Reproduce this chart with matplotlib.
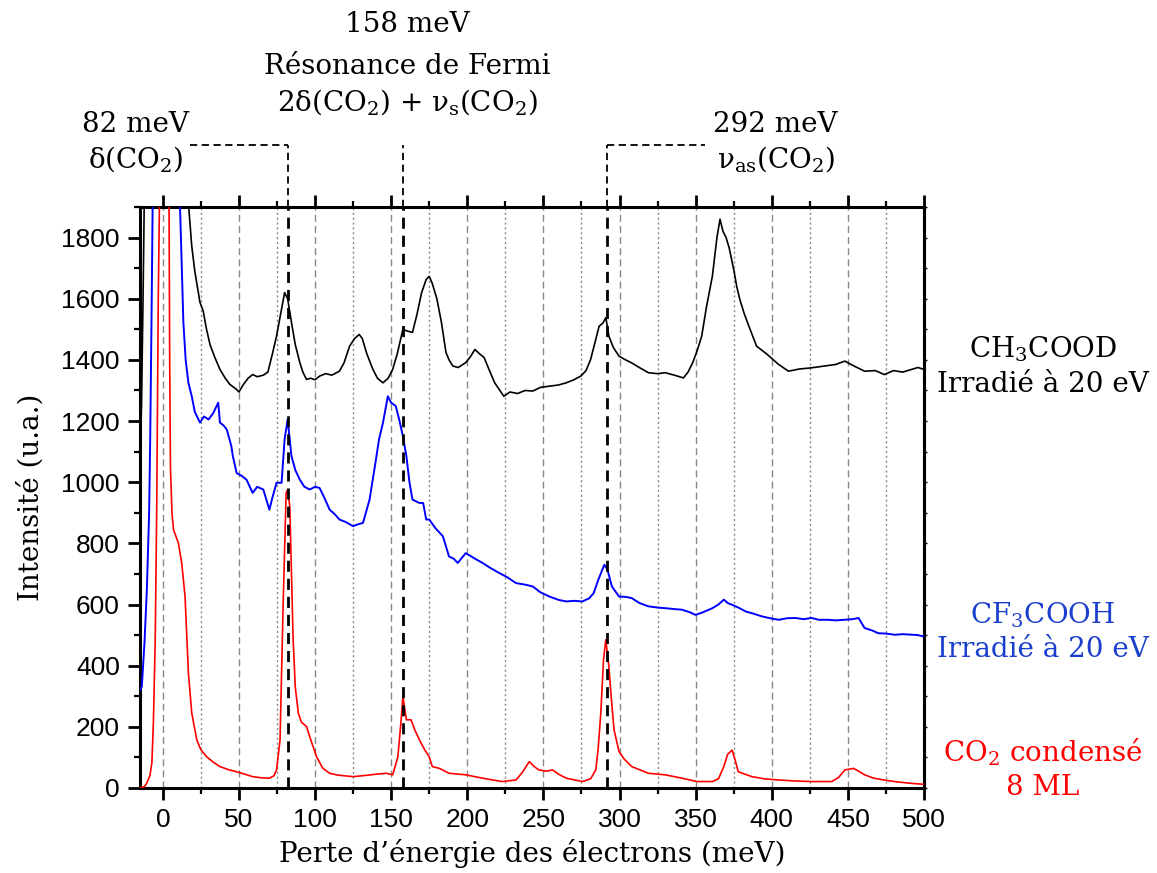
import matplotlib
matplotlib.use("Agg")
import matplotlib.pyplot as plt
from matplotlib.ticker import MultipleLocator

# CH3COOD irradié à 20 eV (noir)
x_ch3 = [-15, -14, -13, -12, 16, 17, 19, 21, 24.4, 26.5, 28.7, 31, 34, 37.5, 41, 44, 48.5, 50,
         53, 56, 59, 62, 66, 69, 72, 74.7, 77, 80, 82, 84.5, 87, 90, 92, 94.4, 97, 100, 103,
         107, 111, 116, 119, 122.7, 126, 129, 131, 134, 138, 141, 144.6, 148, 151, 154, 157.7,
         160, 164, 167, 170, 173, 175, 177, 180, 183, 186, 188, 190.5, 194, 199, 202, 205, 208,
         211, 215, 218, 221, 224, 228, 233, 238, 243, 248, 254, 260, 265, 270, 274.6, 278, 281,
         284, 286.6, 289, 291, 293, 296, 299.7, 304, 308, 313, 319, 325, 330, 336, 342, 345,
         348, 351, 354, 357, 361, 364, 366, 368, 370, 372, 375, 377, 379, 382, 385, 390, 397,
         404.5, 411, 418, 426, 435, 442, 448, 454, 461, 468, 474, 480, 486, 492, 496, 500]
y_ch3 = [1070, 1250, 1600, 2000, 2000, 1900, 1772, 1690, 1588, 1560, 1500, 1450, 1410, 1369,
         1340, 1320, 1303, 1295, 1320, 1340, 1352, 1345, 1350, 1360, 1420, 1478, 1540, 1620,
         1600, 1523, 1450, 1391, 1360, 1336, 1340, 1335, 1347, 1355, 1350, 1363, 1390, 1445,
         1470, 1483, 1470, 1420, 1369, 1340, 1325, 1340, 1369, 1420, 1500, 1495, 1490, 1550,
         1620, 1663, 1673, 1650, 1600, 1523, 1424, 1400, 1380, 1375, 1391, 1410, 1434, 1420,
         1408, 1360, 1325, 1303, 1281, 1295, 1290, 1300, 1298, 1310, 1314, 1318, 1325, 1335,
         1347, 1365, 1401, 1460, 1510, 1520, 1538, 1478, 1440, 1412, 1400, 1390, 1375, 1358,
         1355, 1358, 1350, 1341, 1360, 1390, 1430, 1478, 1570, 1674, 1800, 1860, 1820, 1800,
         1767, 1696, 1640, 1598, 1550, 1510, 1445, 1418, 1385, 1363, 1370, 1374, 1380, 1385,
         1396, 1380, 1363, 1365, 1352, 1365, 1360, 1369, 1375, 1369]

# CF3COOH irradié à 20 eV (bleu)
x_cf3 = [-15, -13.8, -12, -10.5, -9, -8.3, -7.5, -6.5, 10.5, 11.3, 12.5, 13.5, 15, 16.8, 19,
         21, 24.4, 27, 30, 33, 36.4, 37.5, 40, 42, 45, 46, 48.5, 52, 55, 59, 62, 66, 70, 72,
         74.7, 78, 80, 82, 84.5, 87, 90, 93, 96.5, 100, 103, 106, 109.6, 113, 116, 120, 125,
         128, 131.5, 135.8, 140, 142, 144.6, 147.8, 150, 153, 155.5, 157.7, 160, 162, 164,
         168.6, 171, 173, 175, 179, 184, 188, 191, 193.7, 196, 199, 205, 210, 215, 221, 226,
         232, 238, 243, 248, 254, 260, 265, 270, 275.6, 280, 283, 286, 290, 292, 295, 299.7,
         304, 308, 313, 319, 325, 330, 336, 341, 346, 350, 355, 361, 365, 368.5, 371, 374,
         378, 383, 388, 393.6, 399, 404.5, 410, 415.5, 421, 426, 431, 437, 442, 448, 453, 457,
         461, 466, 470, 475, 481, 486, 492, 496, 500]
y_cf3 = [320, 332, 480, 648, 900, 1140, 1500, 2000, 2000, 1900, 1700, 1522, 1400, 1325, 1281,
         1230, 1195, 1215, 1205, 1225, 1260, 1195, 1185, 1172, 1118, 1085, 1030, 1020, 1008,
         965, 985, 976, 910, 950, 998, 998, 1140, 1205, 1085, 1040, 1008, 985, 976, 985, 981,
         950, 910, 895, 878, 870, 856, 862, 867, 943, 1074, 1140, 1194, 1281, 1260, 1249,
         1200, 1150, 1085, 1000, 943, 932, 932, 878, 878, 850, 823, 757, 750, 736, 750, 768,
         750, 736, 720, 703, 690, 670, 665, 659, 640, 626, 615, 610, 612, 610, 620, 637, 680,
         730, 715, 659, 626, 625, 621, 605, 594, 590, 588, 585, 583, 575, 566, 575, 588, 600,
         616, 605, 599, 590, 577, 570, 561, 555, 550, 555, 556, 552, 556, 550, 550, 548, 550,
         552, 556, 523, 515, 506, 505, 501, 503, 501, 500, 495]

# CO2 condensé 8 ML (rouge)
x_co2 = [-15, -12, -10.5, -8.5, -7.2, -6.2, -5, -4, -3, -2, 4, 4.5, 5, 6, 7, 10.2, 12.4, 14.6,
         16.8, 19, 22.3, 25, 28.8, 33, 37.5, 43, 48.5, 54, 59, 65, 70, 73, 74.7, 77, 79, 81,
         82, 83.4, 85.6, 87, 89, 91, 94.4, 97, 101, 105, 109.6, 115, 125, 135, 140, 146.8,
         151, 154.4, 156.5, 157.7, 160, 163, 165.5, 168.6, 172, 175, 177, 181.7, 188, 199,
         210, 223, 232, 236, 240.7, 244, 247, 252, 256, 260, 265, 275.6, 281, 284.4, 286,
         287.7, 289.5, 291, 293, 294.5, 296.4, 299.7, 303, 308, 313, 319, 330, 341, 351, 361,
         365, 368.5, 371, 374, 376, 378, 387, 395, 404.5, 415, 426, 439.5, 444, 448, 453.7,
         457, 461, 467, 474, 482, 492, 500]
y_co2 = [0, 5, 16, 40, 82, 213, 485, 921, 1600, 2000, 2000, 1400, 1050, 900, 845, 801, 736,
         626, 376, 245, 157, 125, 102, 85, 70, 60, 53, 45, 37, 33, 32, 40, 59, 157, 594, 965,
         976, 921, 485, 330, 245, 215, 201, 160, 102, 65, 48, 42, 37, 42, 45, 48, 43, 102,
         220, 299, 223, 223, 190, 157, 125, 102, 70, 64, 48, 43, 32, 21, 26, 50, 86, 70, 59,
         55, 59, 45, 32, 21, 30, 59, 130, 245, 420, 485, 397, 300, 190, 119, 95, 70, 60, 48,
         43, 32, 21, 21, 30, 70, 110, 124, 90, 53, 37, 30, 26, 23, 21, 21, 35, 59, 64, 55, 43,
         32, 26, 20, 15, 12]

pics = [82, 158, 292]

plt.rcParams["font.family"] = "DejaVu Serif"
plt.rcParams["mathtext.fontset"] = "dejavuserif"

fig = plt.figure(figsize=(11.57, 8.73), dpi=100)
ax = fig.add_axes([0.121, 0.0974, 0.6776, 0.6655])

ax.plot(x_co2, y_co2, color="red", lw=1.2, zorder=3)
ax.plot(x_cf3, y_cf3, color="blue", lw=1.4, zorder=3)
ax.plot(x_ch3, y_ch3, color="black", lw=1.2, zorder=3)

ax.set_xlim(-15, 500)
ax.set_ylim(0, 1900)
ax.xaxis.set_major_locator(MultipleLocator(50))
ax.xaxis.set_minor_locator(MultipleLocator(25))
ax.yaxis.set_major_locator(MultipleLocator(200))
ax.yaxis.set_minor_locator(MultipleLocator(100))

ax.grid(which="major", axis="x", color="#888888", lw=1, ls=(0, (5, 3)))
ax.grid(which="minor", axis="x", color="#888888", lw=1, ls=(0, (1.5, 2)))
ax.set_axisbelow(True)

for s in ax.spines.values():
    s.set_linewidth(2.2)
ax.tick_params(which="major", direction="out", length=8.5, width=2, top=True,
               labelsize=19, pad=6)
ax.tick_params(which="minor", direction="out", length=4.5, width=1.6, top=True)
for lab in ax.get_xticklabels() + ax.get_yticklabels():
    lab.set_family("Liberation Sans")

sec = ax.secondary_yaxis("right")
sec.yaxis.set_major_locator(MultipleLocator(200))
sec.yaxis.set_minor_locator(MultipleLocator(100))
sec.tick_params(which="both", direction="out", length=2.5, width=1, labelright=False)
sec.spines["right"].set_linewidth(2.2)

ax.set_xlabel("Perte d\u2019énergie des électrons (meV)", fontsize=20, labelpad=5)
ax.set_ylabel("Intensité (u.a.)", fontsize=20, labelpad=12)

# pics du CO2
for p in pics:
    ax.plot([p, p], [0, 1900], color="black", lw=2, ls=(0, (4, 2.5)), zorder=4)
    ax.plot([p, p], [1900, 2103], color="black", lw=1.3, ls=(0, (4, 2.5)), clip_on=False)
ax.plot([18, 82], [2103, 2103], color="black", lw=1.3, ls=(0, (4, 2.5)), clip_on=False)
ax.plot([292, 356], [2103, 2103], color="black", lw=1.3, ls=(0, (4, 2.5)), clip_on=False)

ann = dict(fontsize=20, ha="center", va="center", clip_on=False)
ax.text(-18, 2171, "82 meV", **ann)
ax.text(-18, 2056, "δ(CO$_2$)", **ann)
ax.text(160.7, 2498, "158 meV", **ann)
ax.text(160.7, 2361, "Résonance de Fermi", **ann)
ax.text(160.7, 2243, "2δ(CO$_2$) + ν$_\\mathrm{s}$(CO$_2$)", **ann)
ax.text(402.6, 2171, "292 meV", **ann)
ax.text(402.6, 2056, "ν$_\\mathrm{as}$(CO$_2$)", **ann)

ax.text(578, 1434, "CH$_3$COOD", color="black", **ann)
ax.text(578, 1320, "Irradié à 20 eV", color="black", **ann)
ax.text(578, 566, "CF$_3$COOH", color="#1a3fcc", **ann)
ax.text(578, 452, "Irradié à 20 eV", color="#1a3fcc", **ann)
ax.text(578, 118, "CO$_2$ condensé", color="red", **ann)
ax.text(578, 0, "8 ML", color="red", **ann)

fig.savefig("out.png", dpi=100)
